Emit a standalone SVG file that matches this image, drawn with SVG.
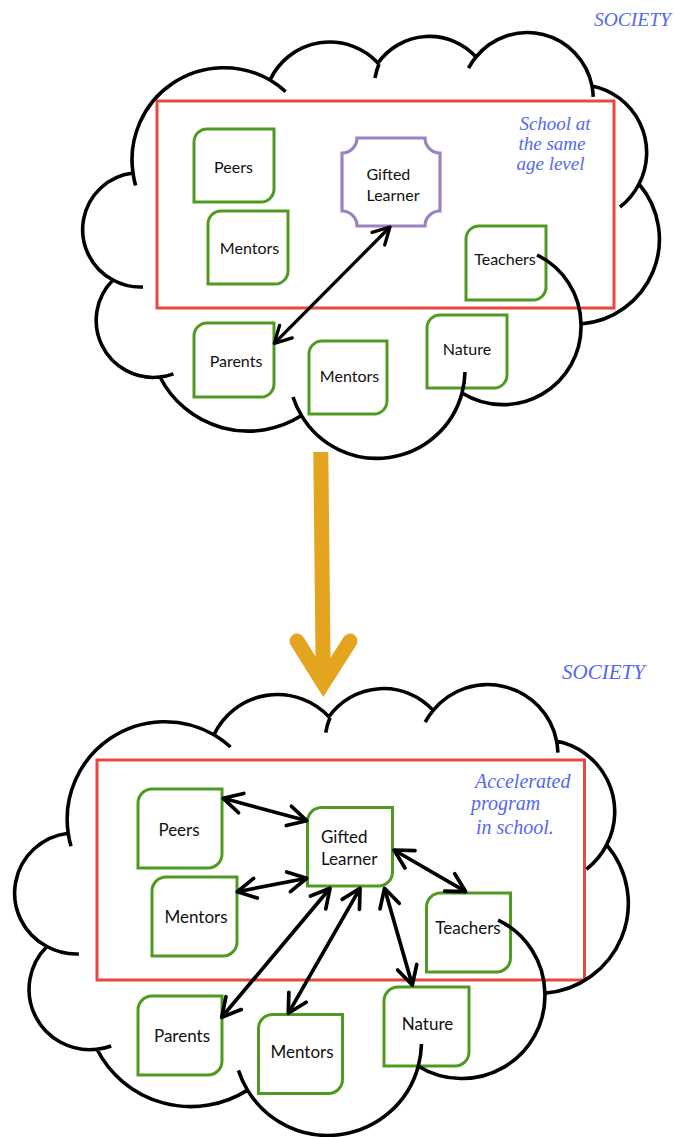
<svg xmlns="http://www.w3.org/2000/svg" xmlns:xlink="http://www.w3.org/1999/xlink" width="674" height="1137" viewBox="0 0 674 1137">
<style>
.box{fill:#fff;stroke:#4f9a20;stroke-width:3}
.plaque{fill:#fff;stroke:#9b82c2;stroke-width:3.2}
.school{fill:none;stroke:#e8483f;stroke-width:3}
.cloud{fill:none;stroke:#000;stroke-width:3.6}
.lbl{font-family:Lato,'Liberation Sans',sans-serif;font-size:16px;fill:#111;text-anchor:middle}
.lb2{font-size:17px}
.st{text-anchor:start}
.hand{font-family:'Liberation Serif',serif;font-style:italic;fill:#5468ee}
.conn{fill:none;stroke:#000;stroke-width:3.3;marker-start:url(#ah);marker-end:url(#ah)}
.conn2{stroke-width:3.7}
.big{fill:none;stroke:#e5a41f;stroke-width:15}
</style>
<defs>
<marker id="ah" markerUnits="strokeWidth" viewBox="-7 -4 8 8" markerWidth="8" markerHeight="8" refX="0" refY="0" orient="auto-start-reverse" overflow="visible">
<path d="M-5,-2.7 L0,0 L-5,2.7" fill="none" stroke="#000" stroke-width="1" stroke-linecap="round" stroke-linejoin="round"/>
</marker>
<path id="cloudShape" vector-effect="non-scaling-stroke" d="M133,173 A92,92 0 0 1 270,80 A66,66 0 0 1 378,63 A63,63 0 0 1 476,57 A66,66 0 0 1 592,86 A68,68 0 0 1 639,184 A85,85 0 0 1 581,324 A78,78 0 0 1 462,393 A88,88 0 0 1 301.5,415.6 A99,99 0 0 1 160,377 A57,57 0 0 1 113,280 A57,57 0 0 1 133,173 Z M133,173 A92,92 0 0 0 135.6,185.4 M270,80 A92,92 0 0 1 285.6,91.6 M379,64 A63,63 0 0 0 375,78 M476,57 A66,66 0 0 0 468.5,68.1 M592,86 A66,66 0 0 1 593.2,96.9 M639,184 A68,68 0 0 1 620,207 M581,324 A78,78 0 0 0 537,255 M462,393 A88,88 0 0 0 465,372 M301.5,415.6 A88,88 0 0 1 293,397 M160,377 A57,57 0 0 0 173.4,373.9 M113,280 A57,57 0 0 0 143,287"/>
</defs>

<!-- TOP DIAGRAM -->
<g id="top-society">
<text class="hand" x="594" y="26" font-size="19.5">SOCIETY</text>
</g>
<g id="top-school">
<rect class="school" x="157" y="101" width="457" height="207"/>
<text class="hand" font-size="19" text-anchor="middle"><tspan x="555" y="129.5">School at</tspan><tspan x="552" y="150">the same</tspan><tspan x="550.5" y="170">age level</tspan></text>
</g>
<g id="top-peers"><path class="box" d="M207,129 H274 V189 A13,13 0 0 1 261,202 H194 V142 A13,13 0 0 1 207,129 Z"/><text class="lbl" x="233.5" y="173">Peers</text></g>
<g id="top-mentors1"><path class="box" d="M221,211 H288 V271 A13,13 0 0 1 275,284 H208 V224 A13,13 0 0 1 221,211 Z"/><text class="lbl" x="249.5" y="254">Mentors</text></g>
<g id="top-gifted"><path class="plaque" d="M357,138 H425 A15,15 0 0 0 440,153 V211 A15,15 0 0 0 425,226 H357 A15,15 0 0 0 342,211 V153 A15,15 0 0 0 357,138 Z"/><text class="lbl st"><tspan x="366.5" y="180">Gifted</tspan><tspan x="366.5" y="200.5">Learner</tspan></text></g>
<g id="top-teachers"><path class="box" d="M479,226 H546 V287 A13,13 0 0 1 533,300 H466 V239 A13,13 0 0 1 479,226 Z"/><text class="lbl" x="505" y="265">Teachers</text></g>
<g id="top-parents"><path class="box" d="M207,323 H274 V384 A13,13 0 0 1 261,397 H194 V336 A13,13 0 0 1 207,323 Z"/><text class="lbl" x="236" y="367">Parents</text></g>
<g id="top-mentors2"><path class="box" d="M322,341 H387 V401 A13,13 0 0 1 374,414 H309 V354 A13,13 0 0 1 322,341 Z"/><text class="lbl" x="349.5" y="382">Mentors</text></g>
<g id="top-nature"><path class="box" d="M440,315 H507 V375 A13,13 0 0 1 494,388 H427 V328 A13,13 0 0 1 440,315 Z"/><text class="lbl" x="467" y="355">Nature</text></g>
<g id="top-cloud"><use xlink:href="#cloudShape" class="cloud"/></g>

<!-- BOTTOM DIAGRAM -->
<g id="bottom-society">
<text class="hand" x="562" y="679" font-size="21">SOCIETY</text>
</g>
<g id="bottom-school">
<rect class="school" x="97" y="760" width="487.5" height="220"/>
<text class="hand" font-size="20"><tspan x="475" y="788">Accelerated</tspan><tspan x="471" y="810">program</tspan><tspan x="476" y="834">in school.</tspan></text>
</g>
<g id="bottom-peers"><path class="box" d="M152,789 H222 V854 A14,14 0 0 1 208,868 H138 V803 A14,14 0 0 1 152,789 Z"/><text class="lbl lb2" x="179" y="836">Peers</text></g>
<g id="bottom-mentors1"><path class="box" d="M166,877 H237 V942 A14,14 0 0 1 223,956 H152 V891 A14,14 0 0 1 166,877 Z"/><text class="lbl lb2" x="196" y="923">Mentors</text></g>
<g id="bottom-gifted"><path class="box" d="M321.5,807.5 H392.5 V872 A14,14 0 0 1 378.5,886 H307.5 V821.5 A14,14 0 0 1 321.5,807.5 Z"/><text class="lbl lb2 st"><tspan x="321" y="843">Gifted</tspan><tspan x="321" y="865">Learner</tspan></text></g>
<g id="bottom-teachers"><path class="box" d="M440.5,893 H510.5 V958 A14,14 0 0 1 496.5,972 H426.5 V907 A14,14 0 0 1 440.5,893 Z"/><text class="lbl lb2" x="468" y="934">Teachers</text></g>
<g id="bottom-parents"><path class="box" d="M152,996 H222 V1061 A14,14 0 0 1 208,1075 H138 V1010 A14,14 0 0 1 152,996 Z"/><text class="lbl lb2" x="182" y="1042">Parents</text></g>
<g id="bottom-mentors2"><path class="box" d="M272.5,1014.5 H342.5 V1079.5 A14,14 0 0 1 328.5,1093.5 H258.5 V1028.5 A14,14 0 0 1 272.5,1014.5 Z"/><text class="lbl lb2" x="302" y="1058">Mentors</text></g>
<g id="bottom-nature"><path class="box" d="M398,987 H469 V1052 A14,14 0 0 1 455,1066 H384 V1001 A14,14 0 0 1 398,987 Z"/><text class="lbl lb2" x="427.5" y="1030">Nature</text></g>
<g id="bottom-cloud"><use xlink:href="#cloudShape" class="cloud" transform="matrix(1.064 0 0 1.059 -73.3 650)"/></g>

<!-- CONNECTORS -->
<g id="connectors">
<path class="conn" d="M274.3,343.3 L390,227"/>
<path class="conn conn2" d="M223.3,798.3 L306.7,820.7"/>
<path class="conn conn2" d="M237.3,891.7 L306.7,878.3"/>
<path class="conn conn2" d="M394,850 L465.7,891.7"/>
<path class="conn conn2" d="M384.5,888.3 L412.3,985"/>
<path class="conn conn2" d="M330,888.3 L221.7,1017.3"/>
<path class="conn conn2" d="M360,888.3 L288.3,1013.3"/>
<path class="big" d="M320.8,452 L323.3,684"/>
<path class="big" d="M297,641 L323.3,683 L350,641" stroke-linecap="round" stroke-linejoin="miter"/>
</g>
</svg>
